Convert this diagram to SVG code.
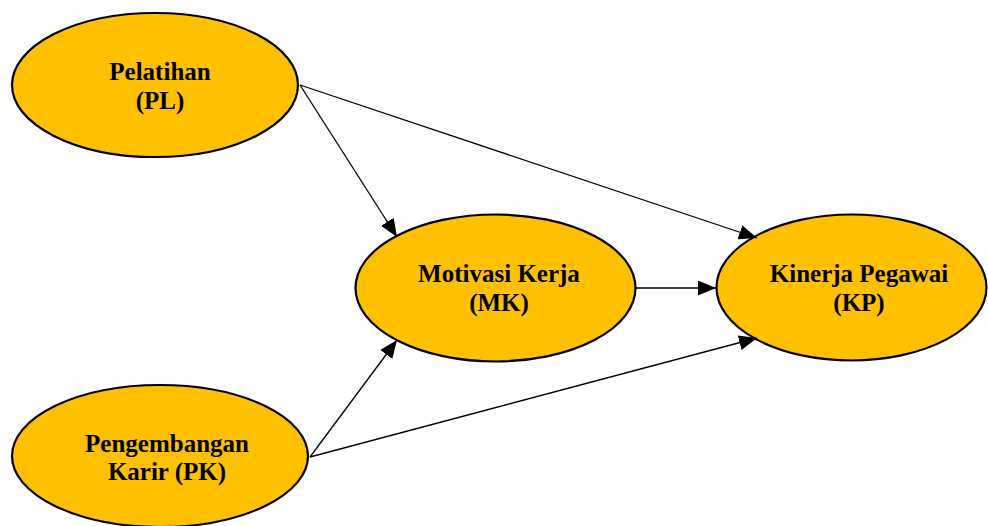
<svg xmlns="http://www.w3.org/2000/svg" width="988" height="526" viewBox="0 0 988 526">
  <style>
    .node ellipse { fill: #FFC000; stroke: #000; stroke-width: 2.2; }
    .node text { font-family: "Liberation Serif", "Times New Roman", serif; font-weight: bold; font-size: 25px; fill: #000; text-anchor: middle; }
    .conn line { stroke: #000; stroke-width: 1.3; fill: none; }
  </style>
  <defs>
    <marker id="arrow" markerUnits="userSpaceOnUse" markerWidth="18" markerHeight="15" refX="18" refY="7.5" orient="auto">
      <path d="M0,0 L18,7.5 L0,15 Z" fill="#000"/>
    </marker>
  </defs>
  <rect width="988" height="526" fill="#fff"/>
  <g id="node-PL" class="node">
    <ellipse cx="155" cy="85" rx="143" ry="72"/>
    <text x="160" y="80">Pelatihan</text>
    <text x="160" y="109">(PL)</text>
  </g>
  <g id="node-MK" class="node">
    <ellipse cx="495.5" cy="288" rx="140" ry="73.5"/>
    <text x="499" y="282">Motivasi Kerja</text>
    <text x="499" y="311">(MK)</text>
  </g>
  <g id="node-KP" class="node">
    <ellipse cx="851.5" cy="287.5" rx="135" ry="73"/>
    <text x="859" y="282">Kinerja Pegawai</text>
    <text x="859" y="311">(KP)</text>
  </g>
  <g id="node-PK" class="node">
    <ellipse cx="160" cy="456" rx="148" ry="71"/>
    <text x="167" y="452">Pengembangan</text>
    <text x="167" y="480">Karir (PK)</text>
  </g>
  <g id="connectors" class="conn">
    <line x1="300" y1="85" x2="397" y2="237" marker-end="url(#arrow)"/>
    <line x1="300" y1="85" x2="757" y2="238" marker-end="url(#arrow)"/>
    <line x1="310" y1="457" x2="397" y2="340" marker-end="url(#arrow)"/>
    <line x1="310" y1="457" x2="757" y2="338" marker-end="url(#arrow)"/>
    <line x1="636" y1="288" x2="716" y2="288" marker-end="url(#arrow)"/>
  </g>
</svg>
